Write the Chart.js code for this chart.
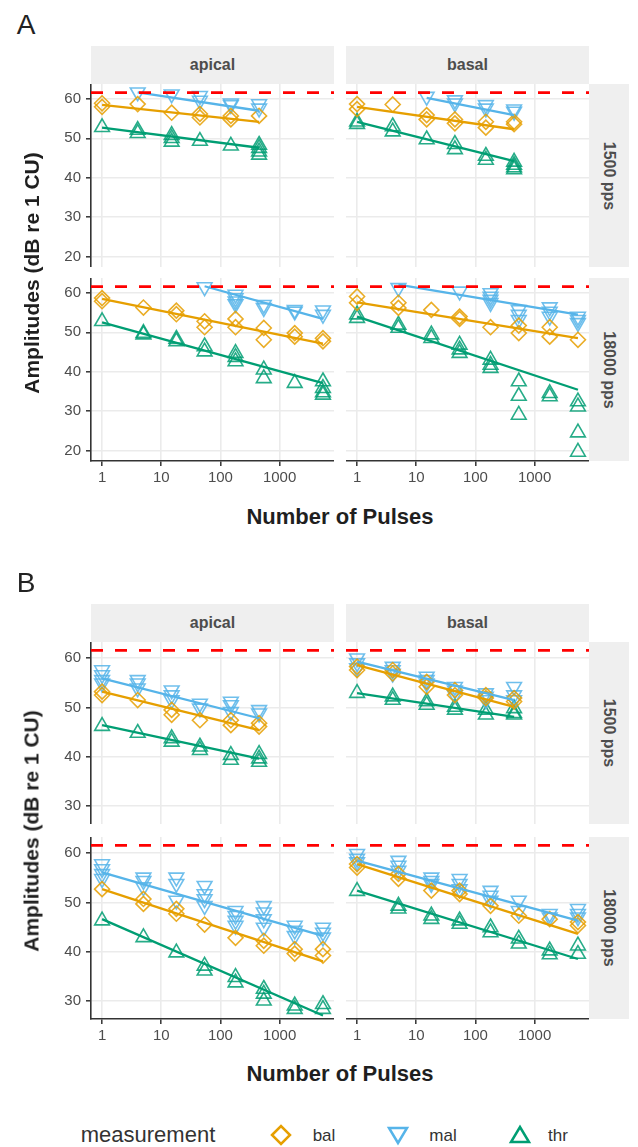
<!DOCTYPE html>
<html>
<head>
<meta charset="utf-8">
<script src="https://cdn.jsdelivr.net/npm/chart.js@4/dist/chart.umd.min.js"></script>
<style>
  body { margin: 0; width: 638px; height: 1147px; background: #fff; position: relative; overflow: hidden;
         font-family: "Liberation Sans", Arial, sans-serif; }
  canvas { position: absolute; }
  .lbl { position: absolute; transform: translate(-50%, -50%); white-space: nowrap; line-height: 1; }
  .strip { position: absolute; background: #efefef; }
</style>
</head>
<body>
<script>
// x values (number of pulses) per rate
const pulses1500 = [1, 4, 15, 45, 150, 450];
const pulses18000 = [1, 5, 18, 54, 180, 540, 1800, 5400];
const measures = ['bal', 'mal', 'thr'];
const ceilingDb = 61.6;
const xTicks = [1, 10, 100, 1000];
const yTicksA = [20, 30, 40, 50, 60];
const yTicksB = [30, 40, 50, 60];

// A - apical - 1500 pps (values per pulse count)
const aApical1500Bal = [[58.9, 58.0], [58.7], [56.5], [56.2, 55.3], [55.7, 54.8], [55.7]];
const aApical1500Mal = [[], [61.7], [61.2], [60.8, 59.6], [58.9, 58.5], [58.7, 57.6]];
const aApical1500Thr = [[52.8], [52.1, 51.3], [50.8, 50.0, 49.1], [49.3], [48.1], [48.3, 47.5, 46.6, 45.8]];
const aApical1500Fit = [[58.5, 54.2], [61.7, 57.0], [52.7, 47.6]];
// A - basal - 1500 pps
const aBasal1500Bal = [[58.7, 57.4], [58.6], [55.9, 54.8], [54.8, 53.8], [54.2, 52.7], [54.2, 53.6]];
const aBasal1500Mal = [[], [], [60.6], [59.7, 58.9], [58.5, 57.6], [57.4, 56.8]];
const aBasal1500Thr = [[54.2, 53.6], [53.0, 51.7], [49.7], [48.5, 47.2], [45.5, 44.5], [44.0, 43.2, 42.6, 42.1]];
const aBasal1500Fit = [[58.0, 52.3], [60.3, 55.9], [54.2, 44.2]];
// A - apical - 18000 pps
const aApical18000Bal = [[58.7, 57.9], [56.3], [55.5, 54.6], [52.8, 51.3], [53.4, 51.3], [51.1, 48.1], [49.8, 48.9], [48.5, 47.7]];
const aApical18000Mal = [[], [], [], [61.5], [59.6, 58.7, 57.9, 57.2], [57.0, 56.2], [55.7, 55.3], [55.6, 54.5]];
const aApical18000Thr = [[52.8], [49.8, 49.4], [48.3, 47.7], [46.4, 45.1], [44.7, 43.7, 42.6], [40.5, 38.3], [37.1], [37.5, 35.8, 34.7, 34.1]];
const aApical18000Fit = [[58.5, 47.1], [61.7, 53.4], [52.5, 37.1]];
// A - basal - 18000 pps
const aBasal18000Bal = [[59.1, 57.5], [57.5, 56.2], [55.7], [54.0, 53.4], [51.3], [51.7, 49.8], [51.3, 48.9], [48.1]];
const aBasal18000Mal = [[], [61.3], [], [60.4], [60.0, 59.1, 58.3, 57.5], [55.7, 54.5, 53.2], [56.4, 55.3, 54.0], [54.0, 53.2, 52.4]];
const aBasal18000Thr = [[54.5, 53.6], [51.9, 51.1], [49.4, 48.5], [46.8, 45.6, 44.7], [43.0, 41.7, 40.9], [37.5, 33.8, 29.0], [34.5, 33.7], [32.4, 31.1, 24.5, 19.6]];
const aBasal18000Fit = [[57.6, 48.5], [62.1, 54.5], [54.0, 35.4]];

// B - apical - 1500 pps
const bApical1500Bal = [[53.2, 52.5], [51.5], [49.5, 48.5], [47.4], [47.4, 46.4], [46.8, 46.1]];
const bApical1500Mal = [[57.6, 56.6, 55.6, 54.9], [55.6, 54.9, 53.9], [53.5, 52.5, 51.5], [50.8, 49.8], [51.2, 50.5, 49.1], [49.5, 48.8]];
const bApical1500Thr = [[46.2], [44.8], [43.7, 43.0], [42.0, 41.3], [40.3, 39.3], [40.5, 39.6, 38.9]];
const bApical1500Fit = [[53.2, 45.4], [55.9, 47.8], [46.4, 39.6]];
// B - basal - 1500 pps
const bBasal1500Bal = [[58.3, 57.6], [57.6, 56.9], [55.2, 54.2], [53.5, 52.5], [52.5, 51.9], [51.9, 51.2]];
const bBasal1500Mal = [[60.0, 59.0, 58.0], [58.3, 57.6, 56.9], [56.3, 55.6, 54.9], [54.2, 53.5, 52.5], [52.9, 52.2, 51.5], [54.2, 52.5, 51.5]];
const bBasal1500Thr = [[52.9], [52.2, 51.5], [51.2, 50.5], [50.1, 49.5], [49.5, 48.5], [49.8, 48.8, 48.5]];
const bBasal1500Fit = [[58.6, 50.1], [59.3, 51.5], [52.9, 48.1]];
// B - apical - 18000 pps
const bApical18000Bal = [[52.7], [50.7, 49.7], [48.7, 47.7], [45.5], [42.8], [42.2, 41.2], [40.5, 39.6], [40.5, 39.2]];
const bApical18000Mal = [[57.8, 56.8, 55.8, 54.8], [55.1, 54.4, 53.1], [55.1, 53.8, 50.4], [53.4, 51.7, 50.7, 49.3], [48.3, 47.3, 46.3, 45.3], [49.3, 48.0, 46.6, 44.9], [45.3, 44.3, 43.2], [44.9, 43.9, 42.9]];
const bApical18000Thr = [[46.3], [42.9], [39.8], [37.1, 36.1], [34.8, 33.7], [32.4, 31.4, 30.0], [29.0, 28.3], [29.3, 28.3]];
const bApical18000Fit = [[52.7, 38.0], [56.1, 43.2], [46.6, 27.0]];
// B - basal - 18000 pps
const bBasal18000Bal = [[57.8, 57.1], [55.8, 54.8], [52.4], [52.4, 51.7], [49.3], [47.3], [46.6], [46.0, 45.3]];
const bBasal18000Mal = [[59.9, 58.9, 58.2], [58.5, 57.5, 56.5], [55.1, 54.4, 53.8], [54.8, 53.8, 52.7], [52.4, 51.4, 50.4], [50.4, 48.3], [47.7, 47.0], [48.7, 47.7, 47.0]];
const bBasal18000Thr = [[52.3], [49.3, 48.7], [47.3, 46.6], [46.3, 45.6], [44.9, 43.9], [42.6, 41.6], [40.2, 39.4], [41.2, 39.5]];
const bBasal18000Fit = [[57.8, 43.6], [58.5, 46.3], [52.4, 38.5]];

// ---- styling / layout ----
Chart.defaults.font.family = '"Liberation Sans", Arial, sans-serif';
const palette = { bal: '#E69F00', mal: '#56B4E9', thr: '#009E73' };
const pointFill = { bal: 'rgba(230,159,0,0.85)', mal: 'rgba(86,180,233,0.85)', thr: 'rgba(0,158,115,0.85)' };
const shapes = { bal: ['rectRot', 0, 7.5], mal: ['triangle', 180, 8.5], thr: ['triangle', 0, 8.5] };
const xMin = 0.65, xMax = 8300;
const colLeft = [91, 346];
const panelW = 243;

const figures = [
  { tag: 'A', tagY: 24.5, stripTop: 46, rows: [[84, 267], [278, 461]], yMin: 17.3, yMax: 63.8, yTicks: yTicksA, titleY: 517,
    panels: [
      { row: 0, col: 0, xs: pulses1500, bal: aApical1500Bal, mal: aApical1500Mal, thr: aApical1500Thr, fit: aApical1500Fit },
      { row: 0, col: 1, xs: pulses1500, bal: aBasal1500Bal, mal: aBasal1500Mal, thr: aBasal1500Thr, fit: aBasal1500Fit },
      { row: 1, col: 0, xs: pulses18000, bal: aApical18000Bal, mal: aApical18000Mal, thr: aApical18000Thr, fit: aApical18000Fit },
      { row: 1, col: 1, xs: pulses18000, bal: aBasal18000Bal, mal: aBasal18000Mal, thr: aBasal18000Thr, fit: aBasal18000Fit }
    ] },
  { tag: 'B', tagY: 583, stripTop: 604, rows: [[642, 824], [837, 1019]], yMin: 26.3, yMax: 63.3, yTicks: yTicksB, titleY: 1074,
    panels: [
      { row: 0, col: 0, xs: pulses1500, bal: bApical1500Bal, mal: bApical1500Mal, thr: bApical1500Thr, fit: bApical1500Fit },
      { row: 0, col: 1, xs: pulses1500, bal: bBasal1500Bal, mal: bBasal1500Mal, thr: bBasal1500Thr, fit: bBasal1500Fit },
      { row: 1, col: 0, xs: pulses18000, bal: bApical18000Bal, mal: bApical18000Mal, thr: bApical18000Thr, fit: bApical18000Fit },
      { row: 1, col: 1, xs: pulses18000, bal: bBasal18000Bal, mal: bBasal18000Mal, thr: bBasal18000Thr, fit: bBasal18000Fit }
    ] }
];
const colNames = ['apical', 'basal'];
const rowNames = ['1500 pps', '18000 pps'];

function addText(txt, cx, cy, css) {
  const d = document.createElement('div');
  d.className = 'lbl';
  d.textContent = txt;
  d.style.left = cx + 'px';
  d.style.top = cy + 'px';
  Object.assign(d.style, css || {});
  document.body.appendChild(d);
}
function addBox(x, y, w, h) {
  const d = document.createElement('div');
  d.className = 'strip';
  Object.assign(d.style, { left: x + 'px', top: y + 'px', width: w + 'px', height: h + 'px' });
  document.body.appendChild(d);
}

function toPoints(xs, vals) {
  const pts = [];
  xs.forEach((x, i) => vals[i].forEach(v => pts.push({ x: x, y: v })));
  return pts;
}
function toFit(xs, vals, ends) {
  const idx = vals.map((v, i) => v.length ? i : -1).filter(i => i >= 0);
  return [{ x: xs[idx[0]], y: ends[0] }, { x: xs[idx[idx.length - 1]], y: ends[1] }];
}
// fixed axis box, no label overhang padding
function fixAxis(s, size) {
  if (s.isHorizontal()) s.height = size; else s.width = size;
  s.paddingTop = 0; s.paddingBottom = 0; s.paddingLeft = 0; s.paddingRight = 0;
}

function drawPanel(p, fig) {
  const top = fig.rows[p.row][0];
  const h = fig.rows[p.row][1] - top;
  const showY = p.col === 0, showX = p.row === 1;
  const axisW = showY ? 51 : 0, axisH = showX ? 28 : 0;
  const cv = document.createElement('canvas');
  cv.width = panelW + axisW;
  cv.height = h + axisH;
  cv.style.left = (colLeft[p.col] - axisW) + 'px';
  cv.style.top = top + 'px';
  document.body.appendChild(cv);

  const datasets = [{
    type: 'line', data: [{ x: xMin, y: ceilingDb }, { x: xMax, y: ceilingDb }],
    borderColor: '#ff0000', borderWidth: 2.8, borderDash: [12, 12], pointRadius: 0, showLine: true, order: 0
  }];
  measures.forEach((m, k) => {
    datasets.push({
      type: 'line', data: toFit(p.xs, p[m], p.fit[k]), borderColor: palette[m],
      borderWidth: 2.3, pointRadius: 0, showLine: true, order: 1
    });
    datasets.push({
      type: 'scatter', data: toPoints(p.xs, p[m]),
      pointStyle: shapes[m][0], pointRotation: shapes[m][1], pointRadius: shapes[m][2],
      borderColor: pointFill[m], backgroundColor: 'rgba(0,0,0,0)', borderWidth: 1.6, order: 2
    });
  });

  new Chart(cv, {
    type: 'scatter',
    data: { datasets: datasets },
    options: {
      responsive: false, animation: false, devicePixelRatio: 1, events: [],
      layout: { padding: 0, autoPadding: false },
      plugins: { legend: { display: false }, tooltip: { enabled: false } },
      scales: {
        x: {
          type: 'logarithmic', min: xMin, max: xMax, bounds: 'data',
          afterBuildTicks: s => { s.ticks = xTicks.map(v => ({ value: v })); },
          afterFit: s => fixAxis(s, axisH),
          grid: { color: '#ebebeb', lineWidth: 1.6, drawTicks: showX, tickLength: 5, tickColor: '#333', tickWidth: 1.5 },
          border: { display: showX, color: '#333', width: 1.6 },
          ticks: { display: showX, autoSkip: false, maxRotation: 0, padding: 3, color: '#4d4d4d',
                   font: { size: 15 }, callback: v => String(v) }
        },
        y: {
          type: 'linear', min: fig.yMin, max: fig.yMax, bounds: 'data',
          afterBuildTicks: s => { s.ticks = fig.yTicks.map(v => ({ value: v })); },
          afterFit: s => fixAxis(s, axisW),
          grid: { color: '#ebebeb', lineWidth: 1.6, drawTicks: showY, tickLength: 5, tickColor: '#333', tickWidth: 1.5 },
          border: { display: showY, color: '#333', width: 1.6 },
          ticks: { display: showY, autoSkip: false, padding: 5, color: '#4d4d4d',
                   font: { size: 15 }, callback: v => String(v) }
        }
      }
    }
  });
}

figures.forEach(fig => {
  addText(fig.tag, 26, fig.tagY, { fontSize: '28px', color: '#222' });
  // column strips
  colNames.forEach((name, c) => {
    addBox(colLeft[c], fig.stripTop, panelW, fig.rows[0][0] - fig.stripTop);
    addText(name, colLeft[c] + panelW / 2, (fig.stripTop + fig.rows[0][0]) / 2,
      { fontSize: '16px', fontWeight: 'bold', color: '#4d4d4d' });
  });
  // row strips
  rowNames.forEach((name, r) => {
    const [t, b] = fig.rows[r];
    addBox(589, t, 40, b - t);
    addText(name, 609, (t + b) / 2,
      { fontSize: '16px', fontWeight: 'bold', color: '#4d4d4d', transform: 'translate(-50%,-50%) rotate(90deg)' });
  });
  fig.panels.forEach(p => drawPanel(p, fig));
  addText('Amplitudes (dB re 1 CU)', 31, (fig.rows[0][0] + fig.rows[1][1]) / 2,
    { fontSize: '21px', fontWeight: 'bold', color: '#1f1f1f', transform: 'translate(-50%,-50%) rotate(-90deg)' });
  addText('Number of Pulses', 340, fig.titleY, { fontSize: '22px', fontWeight: 'bold', color: '#1f1f1f' });
});

// legend
addText('measurement', 148, 1135, { fontSize: '22px', color: '#333' });
const legendItems = [['bal', 281, 324], ['mal', 398, 443], ['thr', 520, 558]];
legendItems.forEach(([m, mx, tx]) => {
  const svg = document.createElementNS('http://www.w3.org/2000/svg', 'svg');
  svg.setAttribute('width', 24); svg.setAttribute('height', 24);
  Object.assign(svg.style, { position: 'absolute', left: (mx - 12) + 'px', top: (1135 - 12) + 'px' });
  const poly = document.createElementNS('http://www.w3.org/2000/svg', 'polygon');
  const pts = m === 'bal' ? '3,12 12,3 21,12 12,21' : m === 'mal' ? '3,5 21,5 12,20' : '3,19 21,19 12,4';
  poly.setAttribute('points', pts);
  poly.setAttribute('fill', 'none');
  poly.setAttribute('stroke', palette[m]);
  poly.setAttribute('stroke-width', 2.5);
  svg.appendChild(poly);
  document.body.appendChild(svg);
  addText(m, tx, 1135, { fontSize: '17px', color: '#333' });
});
</script>
</body>
</html>
